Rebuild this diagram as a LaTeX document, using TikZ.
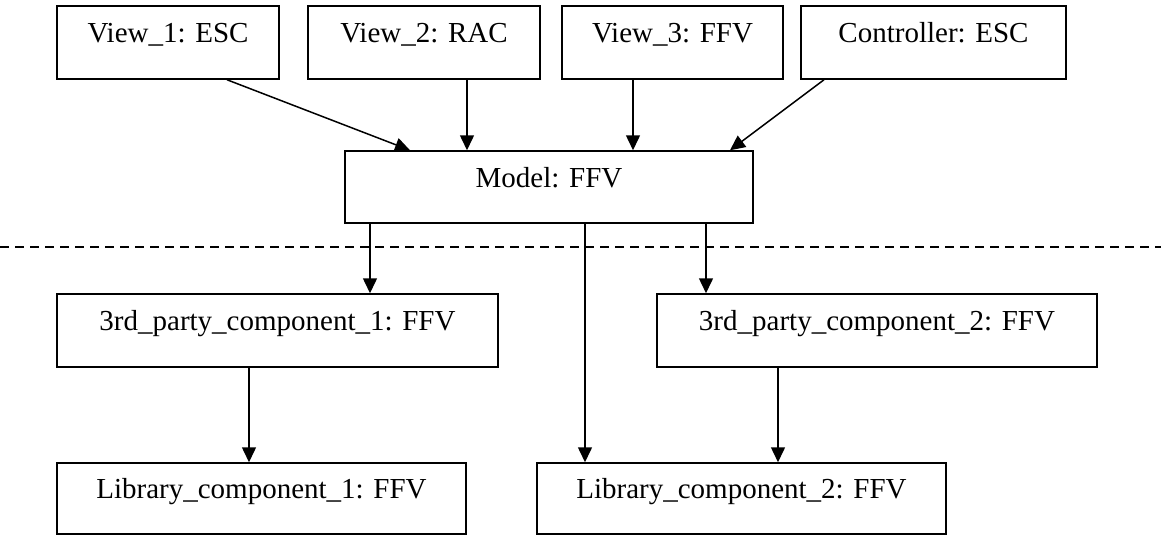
\documentclass[tikz,border=0pt]{standalone}
\usepackage{fontspec}
\setmainfont{Liberation Serif}
\usetikzlibrary{arrows.meta}
\tikzset{
	box/.style={draw, line width=1.5pt, inner xsep=0pt, inner ysep=0pt, text height=36.5pt, text depth=36.5pt, minimum height=73pt, font=\fontsize{29}{31}\selectfont},
	link/.style={line width=1.5pt, -{Triangle[length=15pt,width=14pt]}},
	divider/.style={line width=1.5pt, dash pattern=on 9pt off 6pt}
}

\begin{document}
\begin{tikzpicture}[x=1pt,y=-1pt]
			%%%%% START %%%%%
			\useasboundingbox (0,0) rectangle (1161,536);
			
			\node[box, minimum width=222pt] (view1) at (168,42.5) {View\_1: ESC};
			\node[box, minimum width=232pt] (view2) at (424,42.5) {View\_2: RAC};
			\node[box, minimum width=221pt] (view3) at (672.5,42.5) {View\_3: FFV};
			\node[box, minimum width=265pt] (ctrl) at (933.5,42.5) {Controller: ESC};
			
			\node[box, minimum width=408pt, minimum height=72pt, text height=36pt, text depth=36pt] (model) at (549,187) {Model: FFV};
			
			\coordinate (sepL) at (0,247);
			\coordinate (sepR) at (1161,247);
			\draw[divider] (sepL) -- (sepR);
			
			\node[box, minimum width=441pt] (party1) at (277.5,330.5) {3rd\_party\_component\_1: FFV};
			\node[box, minimum width=440pt] (party2) at (877,330.5) {3rd\_party\_component\_2: FFV};
			
			\node[box, minimum width=409pt, minimum height=71pt, text height=35.5pt, text depth=35.5pt] (lib1) at (261.5,498.5) {Library\_component\_1: FFV};
			\node[box, minimum width=409pt, minimum height=71pt, text height=35.5pt, text depth=35.5pt] (lib2) at (741.5,498.5) {Library\_component\_2: FFV};
			
			\draw[link] ([xshift=59pt]view1.south) -- ([xshift=-139pt]model.north);
			\draw[link] ([xshift=43pt]view2.south) -- ([xshift=43pt]view2.south |- model.north);
			\draw[link] ([xshift=-39.5pt]view3.south) -- ([xshift=-39.5pt]view3.south |- model.north);
			\draw[link] ([xshift=-109.5pt]ctrl.south) -- ([xshift=181pt]model.north);
			
			\draw[link] ([xshift=-179pt]model.south) -- ([xshift=-179pt]model.south |- party1.north);
			\draw[link] ([xshift=36pt]model.south) -- ([xshift=36pt]model.south |- lib2.north);
			\draw[link] ([xshift=157pt]model.south) -- ([xshift=157pt]model.south |- party2.north);
			
			\draw[link] ([xshift=-28.5pt]party1.south) -- ([xshift=-28.5pt]party1.south |- lib1.north);
			\draw[link] ([xshift=-99pt]party2.south) -- ([xshift=-99pt]party2.south |- lib2.north);
			
			%%%%% END %%%%%
\end{tikzpicture}
\end{document}
